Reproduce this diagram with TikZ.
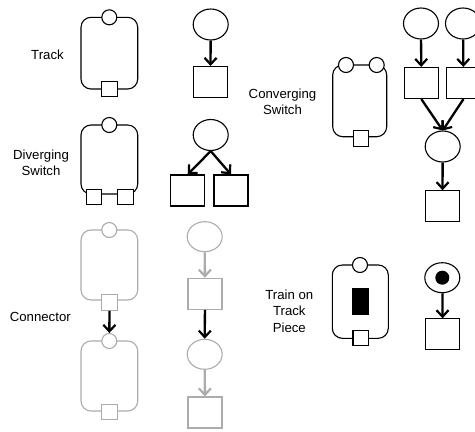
\documentclass[tikz,border=0pt]{standalone}
\usepackage{fontspec}
\setmainfont{Liberation Sans}
\usetikzlibrary{shapes.geometric,arrows.meta}

\definecolor{ghost}{RGB}{172,172,172}

\tikzset{
    piece/.style={rounded corners=10pt, line width=1.1pt},
    inport/.style={circle, draw, fill=white, line width=1.1pt, minimum size=15pt, inner sep=0pt},
    outport/.style={rectangle, draw, fill=white, line width=1.1pt, minimum size=15.5pt, inner sep=0pt},
    pnplace/.style={ellipse, draw, fill=white, line width=1.1pt, minimum width=35pt, minimum height=31pt, inner sep=0pt},
    pntrans/.style={rectangle, draw, fill=white, line width=1.1pt, minimum width=34pt, minimum height=31pt, inner sep=0pt},
    flow/.style={-{Straight Barb[length=6.5pt,width=12pt,line width=2.2pt]}, line width=2.3pt},
    caption/.style={align=center, font=\fontsize{13.2}{16.3}\selectfont}
}

\begin{document}
\begin{tikzpicture}[x=1pt, y=-1pt]
        \clip (0,0) rectangle (475,432);

        % track
        \node[caption] (tracklbl) at (47.5,55) {Track};
        \draw[piece] (81,17.3) rectangle (137.7,89);
        \node[inport] (trackin) at (109.3,17.3) {};
        \node[outport] (trackout) at (109.5,89) {};

        \node[pnplace] (trackp) at (210.7,24.5) {};
        \node[pntrans] (trackt) at (210.5,82) {};
        \draw[flow] (trackp) -- (trackt);

        % diverging switch
        \node[caption] (divlbl) at (41,163) {Diverging\\Switch};
        \draw[piece] (81,125) rectangle (137.7,194);
        \node[inport] (divin) at (109.3,125) {};
        \node[outport] (divouta) at (93.8,197) {};
        \node[outport] (divoutb) at (125.3,197) {};

        \node[pnplace] (divp) at (210.7,135) {};
        \node[pntrans] (divta) at (187.7,190.5) {};
        \node[pntrans] (divtb) at (231,190.5) {};
        \draw[flow] (divp.south) -- (divta.north);
        \draw[flow] (divp.south) -- (divtb.north);

        % converging switch
        \node[caption] (convlbl) at (282.5,102) {Converging\\Switch};
        \draw[piece] (332.7,65) rectangle (386.7,136.7);
        \node[inport] (convina) at (346,65) {};
        \node[inport] (convinb) at (376.7,65) {};
        \node[outport] (convout) at (361,138.3) {};

        \node[pnplace] (convpa) at (421,23.5) {};
        \node[pnplace] (convpb) at (463,23.5) {};
        \node[pntrans] (convta) at (421.3,83) {};
        \node[pntrans] (convtb) at (463.5,83) {};
        \node[pnplace] (convp) at (442.7,146.5) {};
        \node[pntrans] (convt) at (442.5,206.3) {};
        \draw[flow] (convpa) -- (convta);
        \draw[flow] (convpb) -- (convtb);
        \draw[flow] (convta.south) -- (convp.north);
        \draw[flow] (convtb.south) -- (convp.north);
        \draw[flow] (convp) -- (convt);

        % connector
        \node[caption] (connlbl) at (40.3,316.7) {Connector};
        \begin{scope}[every node/.append style={draw=ghost}]
            \draw[piece, ghost] (81,230) rectangle (137.7,300);
            \node[inport] (connina) at (109.3,230) {};
            \node[outport] (connouta) at (109.5,302.5) {};
            \draw[piece, ghost] (81,341) rectangle (137.7,411);
            \node[inport] (conninb) at (109.3,341) {};
            \node[outport] (connoutb) at (109.5,412) {};

            \node[pnplace, minimum height=30pt] (connpa) at (204.7,236.7) {};
            \node[pntrans] (connta) at (205,293.8) {};
            \node[pnplace, minimum height=30pt] (connpb) at (204.7,354.3) {};
            \node[pntrans] (conntb) at (205,412.5) {};
        \end{scope}
        \draw[flow] (connouta) -- (conninb);
        \draw[flow, ghost] (connpa) -- (connta);
        \draw[flow] (connta) -- (connpb);
        \draw[flow, ghost] (connpb) -- (conntb);

        % train on track piece
        \node[caption] (trainlbl) at (289.3,311) {Train on\\Track\\Piece};
        \draw[piece] (332.3,265) rectangle (388.3,338.3);
        \node[inport] (trainin) at (360,265) {};
        \node[outport] (trainout) at (360.7,338) {};
        \fill (352.3,288.3) rectangle (369.3,315);

        \node[pnplace, minimum height=30pt] (trainp) at (442.3,277.7) {};
        \fill (trainp.center) circle (7);
        \node[pntrans, minimum height=30.3pt] (traint) at (442.7,334) {};
        \draw[flow] (trainp) -- (traint);
    \end{tikzpicture}
\end{document}
